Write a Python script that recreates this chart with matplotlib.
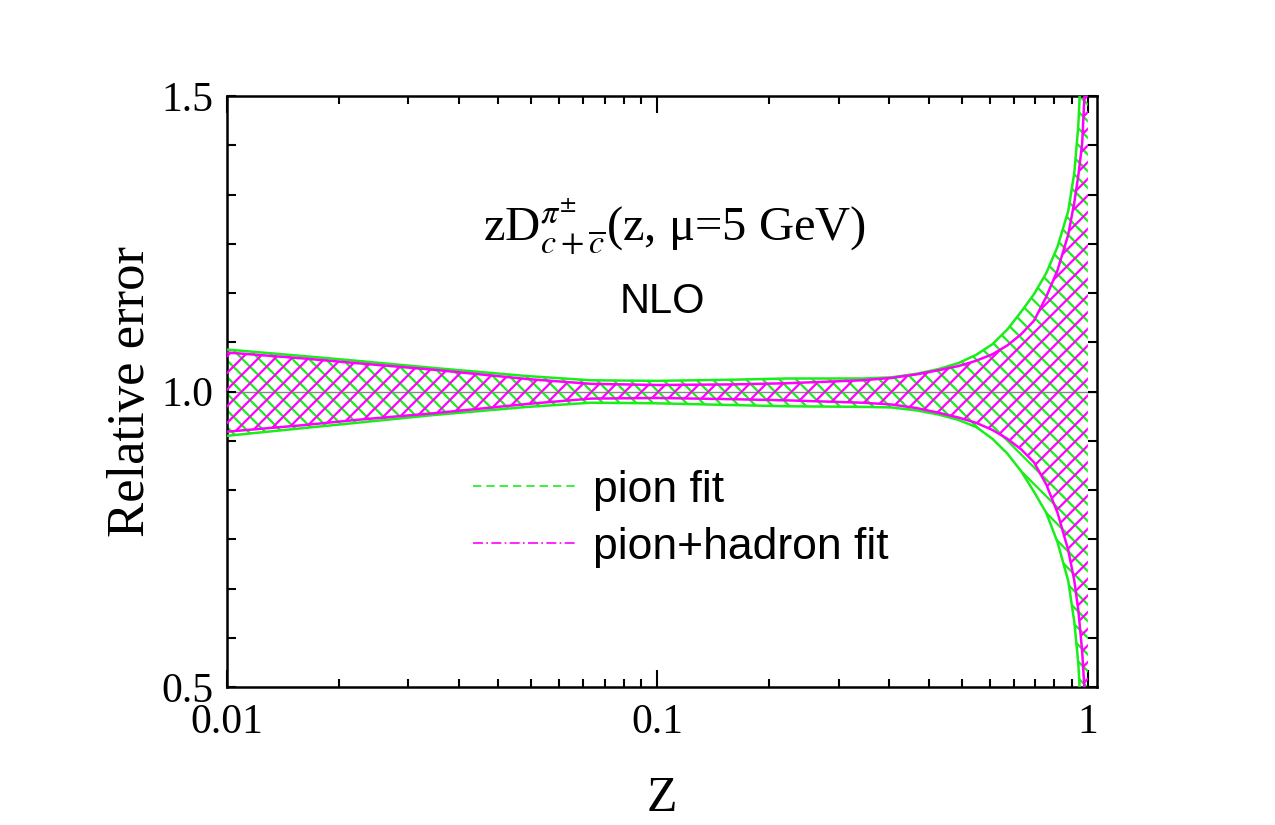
import numpy as np
import matplotlib
matplotlib.use("Agg")
import matplotlib.pyplot as plt
from matplotlib.lines import Line2D
from matplotlib.ticker import FixedLocator, NullFormatter

# ---------------- data ----------------
z = [0.01, 0.015, 0.02, 0.03, 0.05, 0.07, 0.1, 0.15, 0.2, 0.3, 0.35, 0.4, 0.45,
     0.5, 0.55, 0.6, 0.65, 0.7, 0.75, 0.8, 0.85, 0.9, 0.93, 0.95, 0.96, 0.975, 1.0]
pion_upper = [1.071, 1.060, 1.052, 1.040, 1.026, 1.019, 1.018, 1.020, 1.022, 1.022, 1.024,
              1.030, 1.038, 1.048, 1.062, 1.080, 1.105, 1.135, 1.165, 1.200, 1.245, 1.305,
              1.370, 1.450, 1.520, 1.800, 3.000]
pion_lower = [0.925, 0.938, 0.947, 0.960, 0.974, 0.981, 0.980, 0.977, 0.975, 0.974, 0.973,
              0.968, 0.961, 0.952, 0.940, 0.920, 0.895, 0.865, 0.830, 0.795, 0.745, 0.680,
              0.610, 0.540, 0.480, 0.200, -1.000]

z_h = [0.01, 0.015, 0.02, 0.03, 0.05, 0.07, 0.1, 0.15, 0.2, 0.3, 0.35, 0.4, 0.45, 0.5,
       0.55, 0.6, 0.65, 0.7, 0.75, 0.8, 0.85, 0.9, 0.93, 0.95, 0.97, 0.985, 0.995, 1.0]
hadron_upper = [1.066, 1.056, 1.048, 1.037, 1.021, 1.013, 1.011, 1.012, 1.014, 1.019, 1.023,
                1.029, 1.036, 1.043, 1.052, 1.063, 1.078, 1.097, 1.120, 1.160, 1.205, 1.265,
                1.320, 1.365, 1.420, 1.520, 1.900, 3.000]
hadron_lower = [0.932, 0.943, 0.952, 0.963, 0.979, 0.988, 0.989, 0.987, 0.985, 0.981, 0.978,
                0.972, 0.964, 0.956, 0.947, 0.935, 0.920, 0.902, 0.880, 0.843, 0.795, 0.732,
                0.680, 0.630, 0.560, 0.480, 0.100, -1.000]

x_major = [0.01, 0.1, 1.0]
x_major_labels = ["0.01", "0.1", "1"]
y_major = [0.5, 1.0, 1.5]
y_major_labels = ["0.5", "1.0", "1.5"]
labels = ["pion fit", "pion+hadron fit"]

GREEN = "#1aee1a"
MAGENTA = "#ff00ff"

# ---------------- figure ----------------
plt.rcParams["mathtext.fontset"] = "stix"
plt.rcParams["hatch.linewidth"] = 1.6
SERIF = "Liberation Serif"
SANS = "Liberation Sans"

fig = plt.figure(figsize=(12.75, 8.25), dpi=100)
ax = fig.add_axes([227 / 1275, 1 - 687 / 825, 870 / 1275, 591 / 825])

ax.set_xscale("log")
ax.set_xlim(0.01, 1.05)
ax.set_ylim(0.5, 1.5)

ax.axhline(1.0, color="#888888", lw=1.0, zorder=1)

ax.fill_between(z, pion_lower, pion_upper, facecolor="none", edgecolor=GREEN,
                hatch="\\\\", linewidth=0, zorder=2)
ax.fill_between(z_h, hadron_lower, hadron_upper, facecolor="none", edgecolor=MAGENTA,
                hatch="//", linewidth=0, zorder=3)
ax.plot(z, pion_upper, color=GREEN, lw=1.8, zorder=4)
ax.plot(z, pion_lower, color=GREEN, lw=1.8, zorder=4)
ax.plot(z_h, hadron_upper, color=MAGENTA, lw=1.8, zorder=5)
ax.plot(z_h, hadron_lower, color=MAGENTA, lw=1.8, zorder=5)

# ticks
ax.xaxis.set_major_locator(FixedLocator(x_major))
ax.set_xticklabels(x_major_labels)
minor_x = []
for a, b in [(0.01, 0.1), (0.1, 1.0)]:
    minor_x += list(np.linspace(a, b, 12)[1:-1])
ax.xaxis.set_minor_locator(FixedLocator(minor_x))
ax.xaxis.set_minor_formatter(NullFormatter())

ax.yaxis.set_major_locator(FixedLocator(y_major))
ax.set_yticklabels(y_major_labels)
ax.yaxis.set_minor_locator(FixedLocator(list(np.linspace(0.5, 1.5, 13)[1:-1])))
ax.yaxis.set_minor_formatter(NullFormatter())

ax.tick_params(axis="x", which="major", direction="in", top=True, length=12, width=1.5,
               pad=12, labelsize=30)
ax.tick_params(axis="x", which="minor", direction="in", top=True, length=6, width=1.5)
ax.tick_params(axis="y", which="major", direction="in", right=True, length=6.5, width=1.5,
               pad=10, labelsize=30)
ax.tick_params(axis="y", which="minor", direction="in", right=True, length=6.5, width=1.5)
for lab in ax.get_xticklabels() + ax.get_yticklabels():
    lab.set_fontfamily(SERIF)
for sp in ax.spines.values():
    sp.set_linewidth(1.8)

ax.set_xlabel("Z", fontfamily=SERIF, fontsize=36, labelpad=24)
ax.set_ylabel("Relative error", fontfamily=SERIF, fontsize=38, labelpad=4)

ax.text(0.514, 0.778,
        r"zD$^{\pi^{\pm}}_{c+\overline{c}}$(z, μ=5 GeV)",
        transform=ax.transAxes, ha="center", va="center", fontsize=35,
        fontfamily=SERIF)
ax.text(0.500, 0.651, "NLO", transform=ax.transAxes, ha="center", va="center",
        fontfamily=SANS, fontsize=30)

handles = [Line2D([], [], color=GREEN, lw=1.2, linestyle=(0, (5, 3))),
           Line2D([], [], color=MAGENTA, lw=1.2, linestyle=(0, (6, 2, 1, 2)))]
leg = ax.legend(handles, labels, loc="upper left",
                bbox_to_anchor=((473 - 227) / 870, (687 - 470) / 591),
                frameon=False, borderpad=0, borderaxespad=0, handlelength=2.3,
                handletextpad=0.4, labelspacing=0.35,
                prop={"family": SANS, "size": 32})

fig.savefig("out.png", dpi=100, facecolor="white")
